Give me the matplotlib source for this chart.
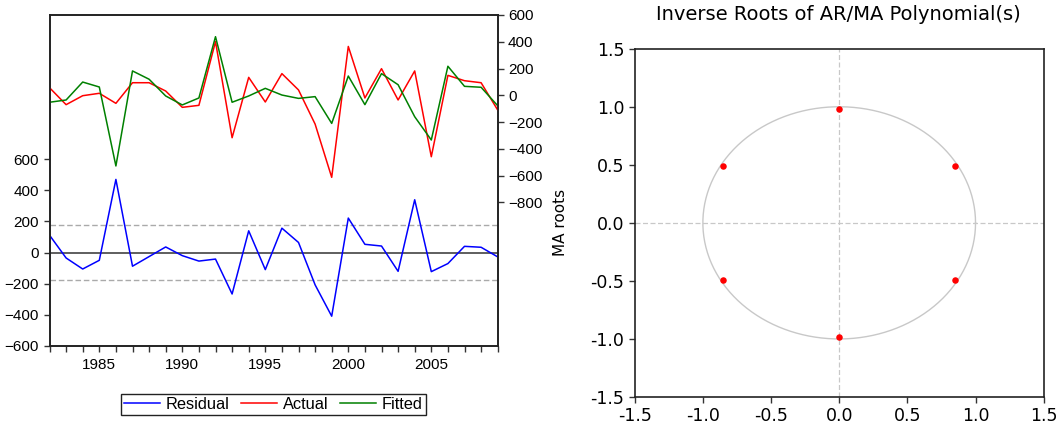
import numpy as np
import matplotlib
matplotlib.use("Agg")
import matplotlib.pyplot as plt
from matplotlib.ticker import MultipleLocator, FixedLocator, FormatStrFormatter

# ---- Data -------------------------------------------------------------
years = list(range(1982, 2010))
actual = [57, -70, -3, 15, -60, 94, 94, 32, -90, -75,
          401, -317, 134, -50, 162, 40, -215, -613, 365, -20,
          199, -35, 182, -459, 149, 109, 94, -110]
fitted = [-52, -35, 99, 62, -528, 182, 120, -5, -72, -20,
          438, -52, -5, 52, 2, -23, -10, -210, 144, -70,
          162, 79, -160, -334, 217, 67, 60, -78]
residual = [112, -35, -106, -50, 471, -88, -26, 36, -20, -55,
            -42, -267, 140, -110, 157, 65, -208, -410, 222, 53,
            42, -121, 340, -123, -71, 40, 34, -28]
resid_band = 178

root_re = [0.849, 0.0, -0.849, -0.849, 0.0, 0.849]
root_im = [0.49, 0.98, 0.49, -0.49, -0.98, -0.49]

resid_ticks = [-600, -400, -200, 0, 200, 400, 600]
level_ticks = [-800, -600, -400, -200, 0, 200, 400, 600]

# ---- Figure -----------------------------------------------------------
W, H = 1061, 424
fig = plt.figure(figsize=(W / 100, H / 100), dpi=100)

LEFT_FONT = ["Liberation Sans", "DejaVu Sans"]
plt.rcParams["font.family"] = LEFT_FONT

def frac(x0, y0, x1, y1):
    return [x0 / W, 1 - y1 / H, (x1 - x0) / W, (y1 - y0) / H]

# Residual / Actual / Fitted panel
ax = fig.add_axes(frac(49.5, 15, 497.7, 345.7))
ax2 = ax.twinx()

ax.plot(years, residual, color="#0000ff", lw=1.1, label="Residual")
ax.axhline(0, color="#333333", lw=1.1, zorder=1)
ax.axhline(resid_band, color="#aaaaaa", lw=1.0, ls=(0, (4, 2)), zorder=1)
ax.axhline(-resid_band, color="#aaaaaa", lw=1.0, ls=(0, (4, 2)), zorder=1)
ax.set_ylim(-600, 1530)
ax.yaxis.set_major_locator(FixedLocator(resid_ticks))
ax.set_xlim(1982, 2009)
ax.xaxis.set_major_locator(FixedLocator([1985, 1990, 1995, 2000, 2005]))
ax.xaxis.set_minor_locator(MultipleLocator(1))
ax.tick_params(axis="both", which="both", direction="out", length=4,
               width=1, labelsize=11, color="#333333")
ax.tick_params(axis="x", which="major", pad=5)

l_act, = ax2.plot(years, actual, color="#ff0000", lw=1.1, label="Actual")
l_fit, = ax2.plot(years, fitted, color="#008000", lw=1.1, label="Fitted")
ax2.set_ylim(-1871, 600)
ax2.yaxis.set_major_locator(FixedLocator(level_ticks))
ax2.tick_params(axis="y", direction="out", length=4, width=1,
                labelsize=11, color="#333333")

for a in (ax, ax2):
    for s in a.spines.values():
        s.set_linewidth(1.2)
        s.set_color("#222222")

handles = [ax.get_lines()[0], l_act, l_fit]
fig.legend(handles, [h.get_label() for h in handles], loc="center",
           bbox_to_anchor=(273.5 / W, 1 - 404.5 / H), ncol=3,
           frameon=True, fancybox=False, edgecolor="#222222",
           fontsize=11.8, handlelength=2.2, handletextpad=0.35,
           columnspacing=0.7, borderpad=0.2, borderaxespad=0,
           framealpha=1)

# Inverse roots panel
RIGHT_FONT = ["DejaVu Sans"]
bx = fig.add_axes(frac(634.7, 48.7, 1043.7, 397))
theta = np.linspace(0, 2 * np.pi, 400)
bx.plot(np.cos(theta), np.sin(theta), color="#c8c8c8", lw=1.0, zorder=1)
bx.axhline(0, color="#c8c8c8", lw=0.9, ls=(0, (4, 2)), zorder=1)
bx.axvline(0, color="#c8c8c8", lw=0.9, ls=(0, (4, 2)), zorder=1)
bx.scatter(root_re, root_im, s=22, color="#ff0000", zorder=3, linewidths=0)
bx.set_xlim(-1.5, 1.5)
bx.set_ylim(-1.5, 1.5)
bx.xaxis.set_major_locator(MultipleLocator(0.5))
bx.yaxis.set_major_locator(MultipleLocator(0.5))
bx.xaxis.set_major_formatter(FormatStrFormatter("%.1f"))
bx.yaxis.set_major_formatter(FormatStrFormatter("%.1f"))
bx.tick_params(direction="out", length=4, width=1, labelsize=12.5,
               color="#333333")
for lab in bx.get_xticklabels() + bx.get_yticklabels():
    lab.set_family(RIGHT_FONT)
for s in bx.spines.values():
    s.set_linewidth(1.2)
    s.set_color("#222222")
bx.set_ylabel("MA roots", fontsize=11, family=RIGHT_FONT, labelpad=16)
fig.text(838 / W, 1 - 14 / H, "Inverse Roots of AR/MA Polynomial(s)",
         ha="center", va="center", fontsize=14, family=RIGHT_FONT)

fig.savefig("out.png", dpi=100)
